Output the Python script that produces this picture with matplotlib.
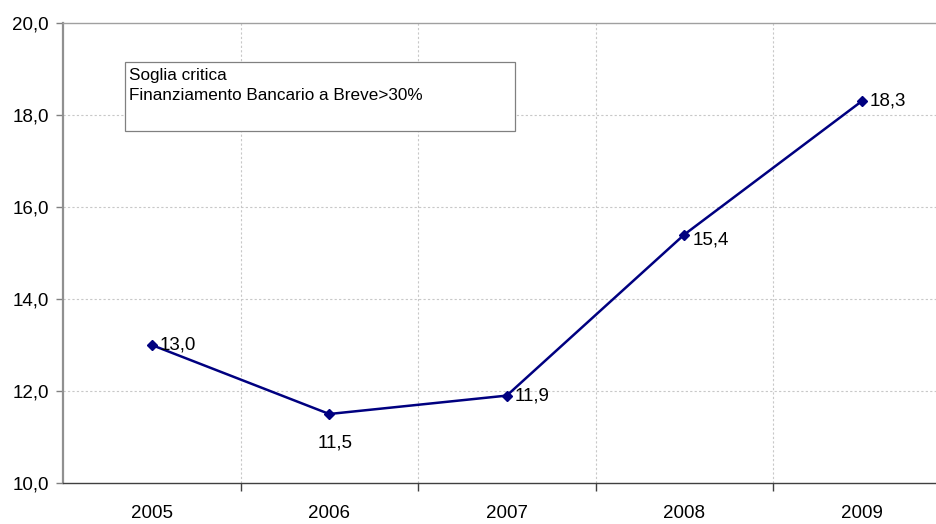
import numpy as np
import matplotlib.pyplot as plt
from matplotlib.patches import Rectangle
from matplotlib.ticker import FixedLocator, NullFormatter

plt.rcParams['font.family'] = ['Liberation Sans', 'DejaVu Sans']

years = ['2005', '2006', '2007', '2008', '2009']
values = [13.0, 11.5, 11.9, 15.4, 18.3]

fs = 13.5

fig = plt.figure(figsize=(9.37, 5.24), dpi=100)
# axes run slightly past the right edge, like the original sheet
ax = fig.add_axes([63 / 937, 1 - 483 / 524, 887.5 / 937, 460 / 524])

x = np.arange(len(years))
ax.plot(x, values, color='#000080', lw=1.8, marker='D', ms=5,
        markerfacecolor='#000080', markeredgecolor='#000080', zorder=3)

# value labels: right of the point, except 2006 which sits below
for i, v in enumerate(values):
    lab = f'{v:.1f}'.replace('.', ',')
    if i == 1:
        ax.annotate(lab, (i, v), xytext=(4, -15), textcoords='offset points',
                    ha='center', va='top', fontsize=fs)
    elif i == 3:
        ax.annotate(lab, (i, v), xytext=(6, -4), textcoords='offset points',
                    ha='left', va='center', fontsize=fs)
    else:
        ax.annotate(lab, (i, v), xytext=(6, 0), textcoords='offset points',
                    ha='left', va='center', fontsize=fs)

ax.set_xlim(-0.5, len(years) - 0.5)
ax.set_ylim(10, 20)
yt = [10, 12, 14, 16, 18, 20]
ax.set_yticks(yt)
ax.set_yticklabels([f'{t:.1f}'.replace('.', ',') for t in yt], fontsize=fs)

# category labels centred, tick marks on the boundaries
ax.set_xticks(x)
ax.set_xticklabels(years, fontsize=fs)
ax.tick_params(axis='x', which='major', length=0, pad=16)
ax.xaxis.set_minor_locator(FixedLocator(np.arange(0.5, len(years) - 0.5, 1)))
ax.xaxis.set_minor_formatter(NullFormatter())
ax.tick_params(axis='x', which='minor', length=6, color='#404040', width=1)
ax.tick_params(axis='y', length=5, color='#808080', width=1, pad=5)

ax.grid(False)
for t in [12, 14, 16, 18]:
    ax.axhline(t, color='#c8c8c8', lw=0.8, ls=(0, (2, 2)), zorder=1)
for b in np.arange(0.5, len(years) - 0.5, 1):
    ax.axvline(b, color='#c8c8c8', lw=0.8, ls=(0, (2, 2)), zorder=1)

ax.spines['left'].set_color('#909090')
ax.spines['left'].set_linewidth(1.6)
ax.spines['bottom'].set_color('#404040')
ax.spines['bottom'].set_linewidth(1.0)
ax.spines['top'].set_color('#a0a0a0')
ax.spines['top'].set_linewidth(1.0)
ax.spines['right'].set_visible(False)

# note box
fig.patches.append(Rectangle((125 / 937, 1 - 131 / 524), 390 / 937, 69 / 524,
                             transform=fig.transFigure, fc='white', ec='#808080',
                             lw=0.9, zorder=5))
fig.text(129 / 937, 1 - 68 / 524, 'Soglia critica\nFinanziamento Bancario a Breve>30%',
         ha='left', va='top', fontsize=12.3, linespacing=1.42, zorder=6)

fig.savefig('out.png', dpi=100)
